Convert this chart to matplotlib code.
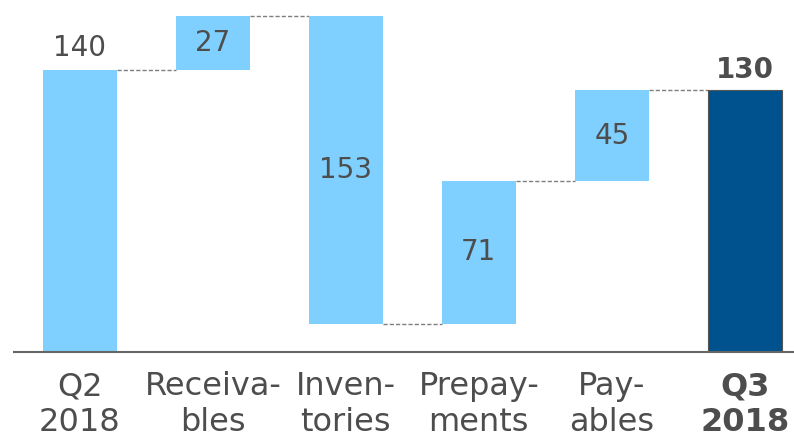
import matplotlib.pyplot as plt
import numpy as np

categories = ['Q2\n2018', 'Receiva-\nbles', 'Inven-\ntories', 'Prepay-\nments', 'Pay-\nables', 'Q3\n2018']
changes = [140, 27, -153, 71, 45]
total_q3 = 130

light = '#7FCFFF'
dark = '#00528E'
text_col = '#4D4D4D'

fig = plt.figure(figsize=(7.94, 4.42), dpi=100)
ax = fig.add_axes([13.5 / 794, 90 / 442, 1 - 13.5 / 794, 352 / 442])

width = 0.556
x = np.arange(len(categories))

# running levels for the waterfall
levels = np.cumsum(changes)
bottoms = [0] + list(levels[:-1])
for i, ch in enumerate(changes):
    b = bottoms[i] if ch >= 0 else bottoms[i] + ch
    ax.bar(x[i], abs(ch), bottom=b, width=width, color=light, zorder=2)

ax.bar(x[5], total_q3, width=width, color=dark, edgecolor='#555555', linewidth=0.8, zorder=2)

# dashed connectors
all_levels = list(levels)
for i in range(len(categories) - 1):
    ax.plot([x[i] + width / 2, x[i + 1] - width / 2], [all_levels[i], all_levels[i]],
            ls=(0, (3, 1.5)), color='#7F7F7F', lw=1.0, zorder=1)

# labels
ax.text(x[0], changes[0] + 4, str(changes[0]), ha='center', va='bottom', fontsize=20, color=text_col)
for i in range(1, 5):
    mid = bottoms[i] + changes[i] / 2
    ax.text(x[i], mid, str(abs(changes[i])), ha='center', va='center', fontsize=20, color=text_col)
ax.text(x[5], total_q3 + 3, str(total_q3), ha='center', va='bottom', fontsize=20,
        color=text_col, fontweight='bold')

ax.set_xlim(-0.5, 5.37)
ax.set_ylim(0, 174.8)
ax.set_xticks(x)
ax.set_xticklabels(categories, fontsize=23, color=text_col, linespacing=1.2)
ax.get_xticklabels()[-1].set_fontweight('bold')
ax.tick_params(axis='x', length=0, pad=14)
ax.set_yticks([])
for s in ['top', 'right', 'left']:
    ax.spines[s].set_visible(False)
ax.spines['bottom'].set_color('#666666')
ax.spines['bottom'].set_linewidth(1.5)

fig.savefig('out.png', dpi=100)
